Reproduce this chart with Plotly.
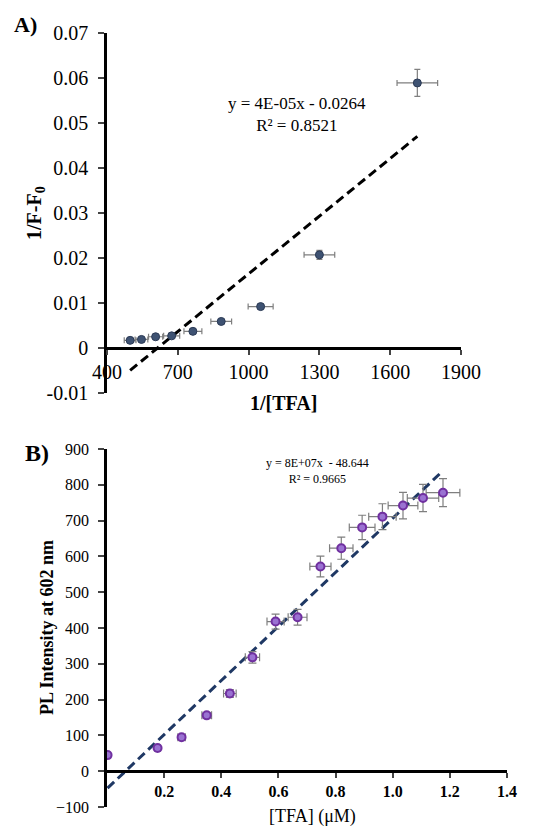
import numpy as np
import plotly.graph_objects as go

# ---------------- Data ----------------
# Panel A: double reciprocal plot
a_x = [498, 546, 606, 674, 764, 884, 1051, 1300, 1715]
a_y = [0.0017, 0.0019, 0.0025, 0.0027, 0.0037, 0.0059, 0.0092, 0.0207, 0.0589]
a_xerr = [25, 27, 30, 34, 38, 44, 53, 65, 86]
a_yerr = [0.0001, 0.0001, 0.00013, 0.00014, 0.0002, 0.0003, 0.0005, 0.001, 0.003]
a_xticks = [400, 700, 1000, 1300, 1600, 1900]
a_yticks = [-0.01, 0, 0.01, 0.02, 0.03, 0.04, 0.05, 0.06, 0.07]
a_yticktext = ["-0.01", "0", "0.01", "0.02", "0.03", "0.04", "0.05", "0.06", "0.07"]
a_eq = "y = 4E-05x - 0.0264<br>R² = 0.8521"

# Panel B: PL intensity vs [TFA]
b_x = [0.002, 0.177, 0.261, 0.349, 0.430, 0.509, 0.590, 0.667, 0.747, 0.820, 0.893, 0.964, 1.036, 1.106, 1.176]
b_y = [45, 65, 95, 156, 217, 318, 418, 430, 572, 623, 681, 711, 742, 763, 778]
b_xerr = [0.0001, 0.009, 0.013, 0.017, 0.022, 0.025, 0.030, 0.033, 0.037, 0.041, 0.045, 0.048, 0.052, 0.055, 0.059]
b_yerr = [2, 3, 5, 8, 11, 16, 21, 22, 29, 31, 34, 36, 37, 38, 39]
b_xticks = [0.2, 0.4, 0.6, 0.8, 1.0, 1.2, 1.4]
b_xticktext = ["0.2", "0.4", "0.6", "0.8", "1.0", "1.2", "1.4"]
b_yticks = [-100, 0, 100, 200, 300, 400, 500, 600, 700, 800, 900]
b_eq = "y = 8E+07x  - 48.644<br>R² = 0.9665"

W, H = 538, 828
OFF = 8  # page body margin offset
SERIF = "Liberation Serif, Times New Roman, serif"

def px(x):
    return (x - OFF) / W

def py(y):
    return 1 - (y - OFF) / H

# linear trendlines (least squares)
a_fit = np.polyfit(a_x, a_y, 1)
b_fit = np.polyfit(b_x, b_y, 1)
a_tx = [min(a_x), max(a_x)]
b_tx = [min(b_x), max(b_x)]

fig = go.Figure()

fig.add_trace(go.Scatter(
    x=a_tx, y=list(np.polyval(a_fit, a_tx)), mode="lines",
    line=dict(color="black", width=3, dash="9px,5px"),
    xaxis="x", yaxis="y", showlegend=False, hoverinfo="skip"))
fig.add_trace(go.Scatter(
    x=a_x, y=a_y, mode="markers",
    marker=dict(size=8, color="#3E5272", line=dict(color="#2B3A55", width=1)),
    error_x=dict(type="data", array=a_xerr, color="#7F7F7F", thickness=1.2, width=3),
    error_y=dict(type="data", array=a_yerr, color="#7F7F7F", thickness=1.2, width=3),
    xaxis="x", yaxis="y", showlegend=False))

fig.add_trace(go.Scatter(
    x=b_tx, y=list(np.polyval(b_fit, b_tx)), mode="lines",
    line=dict(color="#1F3864", width=3, dash="9px,5px"),
    xaxis="x2", yaxis="y2", showlegend=False, hoverinfo="skip"))
fig.add_trace(go.Scatter(
    x=b_x, y=b_y, mode="markers",
    marker=dict(size=8, color="#9A72D2", line=dict(color="#7030A0", width=2)),
    error_x=dict(type="data", array=b_xerr, color="#7F7F7F", thickness=1.2, width=4),
    error_y=dict(type="data", array=b_yerr, color="#7F7F7F", thickness=1.2, width=4),
    xaxis="x2", yaxis="y2", showlegend=False))

# domains
a_ydom = [py(393), py(33)]
a_xdom = [px(107), px(461)]
b_ydom = [py(807), py(449)]
b_xdom = [px(107), px(507)]

a_yr = [-0.01, 0.07]
b_yr = [-100, 900]
a_pos = a_ydom[0] + (0 - a_yr[0]) / (a_yr[1] - a_yr[0]) * (a_ydom[1] - a_ydom[0])
b_pos = b_ydom[0] + (0 - b_yr[0]) / (b_yr[1] - b_yr[0]) * (b_ydom[1] - b_ydom[0])

fig.update_layout(
    width=W, height=H,
    margin=dict(l=0, r=0, t=0, b=0, autoexpand=False),
    paper_bgcolor="white", plot_bgcolor="white",
    font=dict(family=SERIF, color="black"),
    xaxis=dict(domain=a_xdom, range=[400, 1900], anchor="free", position=a_pos,
               tickvals=a_xticks, ticks="outside", ticklen=5, tickwidth=2, automargin=False,
               showline=True, linecolor="black", linewidth=2.5, showgrid=False,
               zeroline=False, tickfont=dict(size=20, family=SERIF), ticklabelstandoff=0),
    yaxis=dict(domain=a_ydom, range=a_yr, anchor="x", automargin=False,
               tickvals=a_yticks, ticktext=a_yticktext, ticks="outside", ticklen=6, tickwidth=2,
               showline=True, linecolor="black", linewidth=2.5, showgrid=False,
               zeroline=False, tickfont=dict(size=20, family=SERIF), ticklabelstandoff=6),
    xaxis2=dict(domain=b_xdom, range=[0, 1.4], anchor="free", position=b_pos, automargin=False,
                tickvals=b_xticks, ticktext=b_xticktext, ticks="outside", ticklen=5, tickwidth=2,
                showline=True, linecolor="black", linewidth=2.5, showgrid=False,
                zeroline=False, tickfont=dict(size=16, family=SERIF, weight="bold"),
                ticklabelstandoff=0),
    yaxis2=dict(domain=b_ydom, range=b_yr, anchor="x2", automargin=False,
                tickvals=b_yticks, ticks="outside", ticklen=6, tickwidth=2,
                showline=True, linecolor="black", linewidth=2.5, showgrid=False,
                zeroline=False, tickfont=dict(size=16, family=SERIF), ticklabelstandoff=6),
)

def ann(text, x, y, size, bold=False, angle=0):
    fig.add_annotation(text=text, x=px(x), y=py(y), xref="paper", yref="paper",
                       showarrow=False, xanchor="center", yanchor="middle",
                       textangle=angle,
                       font=dict(size=size, family=SERIF, color="black",
                                 weight="bold" if bold else "normal"))

ann("A)", 25, 25, 22, bold=True)
ann("B)", 37, 453, 24, bold=True)
ann(a_eq, 297, 114, 17)
ann(b_eq, 317, 471, 12)
ann("1/[TFA]", 283, 403, 20, bold=True)
ann("1/F-F<sub>0</sub>", 35, 213, 20, bold=True, angle=-90)
ann("[TFA] (μM)", 312, 816, 18)
ann("PL Intensity at 602 nm", 47, 628, 18, bold=True, angle=-90)

fig.write_html("out.html")
